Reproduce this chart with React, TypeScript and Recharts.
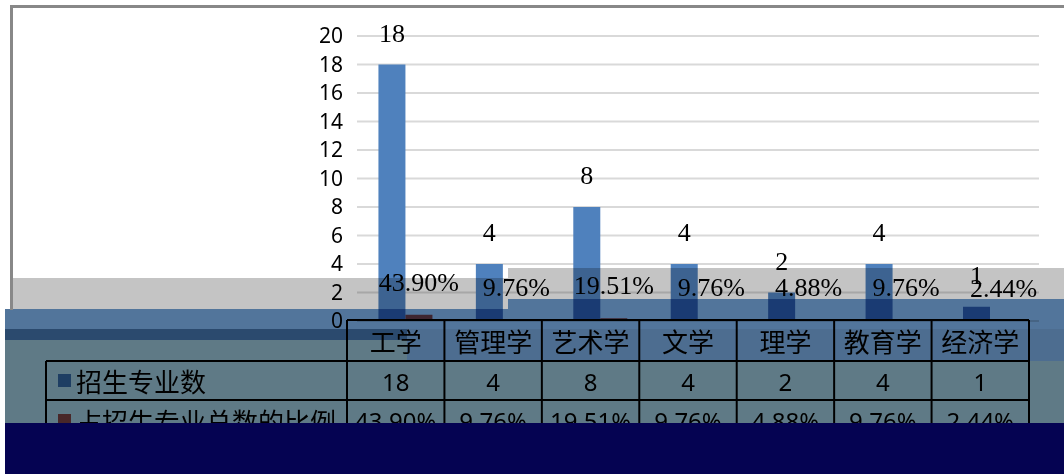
import React from 'react';
import { BarChart, Bar, XAxis, YAxis, CartesianGrid, LabelList } from 'recharts';

const categories = ['工学', '管理学', '艺术学', '文学', '理学', '教育学', '经济学'];
const majorCounts = [18, 4, 8, 4, 2, 4, 1];
const shares = [0.439, 0.0976, 0.1951, 0.0976, 0.0488, 0.0976, 0.0244];
const shareLabels = ['43.90%', '9.76%', '19.51%', '9.76%', '4.88%', '9.76%', '2.44%'];
const yTicks = [0, 2, 4, 6, 8, 10, 12, 14, 16, 18, 20];
const seriesNames = ['招生专业数', '占招生专业总数的比例'];
const seriesColors = ['#4F81BD', '#C0504D'];

const data = categories.map((c, i) => ({
  name: c,
  count: majorCounts[i],
  share: shares[i],
  shareLabel: shareLabels[i],
}));

const W = 1064;
const H = 474;
const PLOT_LEFT = 357;
const PLOT_RIGHT = 1039;
const COL_W = (PLOT_RIGHT - PLOT_LEFT) / categories.length;
const TABLE_SHIFT = -10;
const ROW_TOP = 320;
const ROW1 = 361;
const ROW2 = 400;
const ROW3 = 441;
const TABLE_OUTER_LEFT = 46;
const CJK = '"Noto Sans CJK SC", "Noto Sans", sans-serif';
const NUM = '"Noto Sans", "Open Sans", sans-serif';
const SERIF = '"Liberation Serif", "DejaVu Serif", serif';

function TableTick(props: any) {
  const { x, payload, index } = props;
  const left = x - COL_W / 2 + TABLE_SHIFT;
  const cx = x + TABLE_SHIFT;
  const tableRight = PLOT_LEFT + TABLE_SHIFT + COL_W * categories.length;
  const tableLeft = PLOT_LEFT + TABLE_SHIFT;
  return (
    <g>
      {index === 0 && (
        <g>
          <line x1={tableLeft} y1={ROW_TOP} x2={tableRight} y2={ROW_TOP} stroke="#000" strokeWidth={2} />
          {[ROW1, ROW2, ROW3].map((yy) => (
            <line key={yy} x1={TABLE_OUTER_LEFT} y1={yy} x2={tableRight} y2={yy} stroke="#000" strokeWidth={2} />
          ))}
          <line x1={TABLE_OUTER_LEFT} y1={ROW1} x2={TABLE_OUTER_LEFT} y2={ROW3} stroke="#000" strokeWidth={2} />
          <rect x={58} y={374} width={13} height={13} fill={seriesColors[0]} />
          <text x={76} y={(ROW1 + ROW2) / 2} dominantBaseline="central" fontFamily={CJK} fontSize={26} fill="#000">
            {seriesNames[0]}
          </text>
          <rect x={58} y={414} width={13} height={13} fill={seriesColors[1]} />
          <text x={76} y={(ROW2 + ROW3) / 2} dominantBaseline="central" fontFamily={CJK} fontSize={26} fill="#000">
            {seriesNames[1]}
          </text>
        </g>
      )}
      <line x1={left} y1={ROW_TOP} x2={left} y2={ROW3} stroke="#000" strokeWidth={2} />
      {index === categories.length - 1 && (
        <line x1={left + COL_W} y1={ROW_TOP} x2={left + COL_W} y2={ROW3} stroke="#000" strokeWidth={2} />
      )}
      <text x={cx} y={(ROW_TOP + ROW1) / 2} textAnchor="middle" dominantBaseline="central" fontFamily={CJK} fontSize={26} fill="#000">
        {payload.value}
      </text>
      <text x={cx} y={(ROW1 + ROW2) / 2 + 1} textAnchor="middle" dominantBaseline="central" fontFamily={NUM} fontSize={24} fill="#000">
        {majorCounts[index]}
      </text>
      <text x={cx} y={(ROW2 + ROW3) / 2} textAnchor="middle" dominantBaseline="central" fontFamily={NUM} fontSize={24} fill="#000">
        {shareLabels[index]}
      </text>
    </g>
  );
}

const bands = [
  { left: 13, top: 278, width: 495, height: 31, color: '#c4c4c4' },
  { left: 508, top: 268, width: 556, height: 31, color: '#c4c4c4' },
  { left: 5, top: 309, width: 503, height: 20, color: '#52759b' },
  { left: 508, top: 299, width: 556, height: 30, color: '#52759b' },
  { left: 5, top: 329, width: 402, height: 11, color: '#2b4a6e' },
  { left: 5, top: 340, width: 402, height: 83, color: '#5f7a86' },
  { left: 407, top: 329, width: 657, height: 32, color: '#4d6d90' },
  { left: 407, top: 361, width: 657, height: 62, color: '#5f7a86' },
];

export default function App() {
  return (
    <div style={{ position: 'absolute', left: 0, top: 0, width: W, height: H, background: '#fff', overflow: 'hidden', isolation: 'isolate' }}>
      <BarChart
        width={W}
        height={H}
        data={data}
        margin={{ top: 36, right: W - PLOT_RIGHT, left: 0, bottom: 0 }}
        barCategoryGap="22%"
        barGap={0}
      >
        <CartesianGrid vertical={false} stroke="#d9d9d9" strokeWidth={2} />
        <XAxis
          dataKey="name"
          height={H - 321}
          axisLine={false}
          tickLine={false}
          interval={0}
          tick={<TableTick />}
        />
        <YAxis
          width={PLOT_LEFT}
          domain={[0, 20]}
          ticks={yTicks}
          interval={0}
          axisLine={false}
          tickLine={false}
          tickSize={0}
          tickMargin={14}
          tick={{ fill: '#000', fontSize: 21, fontFamily: NUM }}
        />
        <Bar dataKey="count" name={seriesNames[0]} fill={seriesColors[0]} isAnimationActive={false}>
          <LabelList dataKey="count" position="top" offset={23} fill="#000" fontSize={26} fontFamily={SERIF} />
        </Bar>
        <Bar dataKey="share" name={seriesNames[1]} fill={seriesColors[1]} isAnimationActive={false}>
          <LabelList dataKey="shareLabel" position="top" offset={24} fill="#000" fontSize={26} fontFamily={SERIF} />
        </Bar>
      </BarChart>
      {bands.map((b, i) => (
        <div
          key={i}
          style={{
            position: 'absolute',
            left: b.left,
            top: b.top,
            width: b.width,
            height: b.height,
            background: b.color,
            mixBlendMode: 'multiply',
            pointerEvents: 'none',
          }}
        />
      ))}
      <div style={{ position: 'absolute', left: 5, top: 423, width: W - 5, height: H - 423, background: '#050352' }} />
      <div style={{ position: 'absolute', left: 10, top: 5, width: W - 10, height: 3, background: '#888' }} />
      <div style={{ position: 'absolute', left: 10, top: 5, width: 3, height: 305, background: '#888' }} />
    </div>
  );
}
